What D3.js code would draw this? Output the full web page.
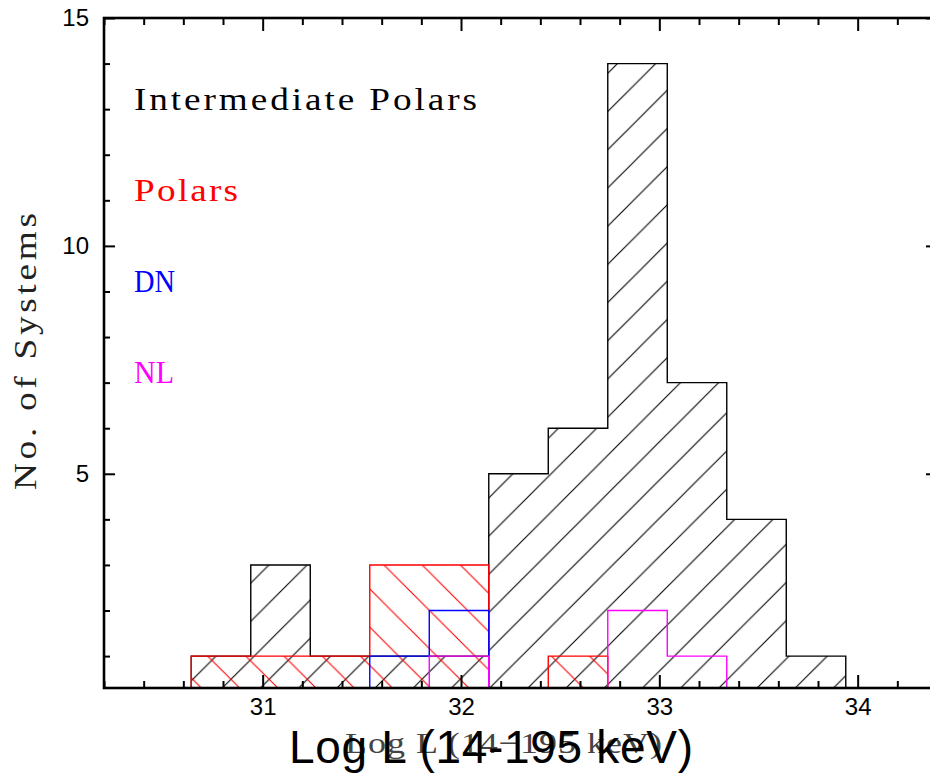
<!DOCTYPE html>
<html>
<head>
<meta charset="utf-8">
<script src="https://cdn.jsdelivr.net/npm/d3@7"></script>
<style>
  body { margin: 0; background: #fff; }
  svg { display: block; }
</style>
</head>
<body>
<div class="histo_chart"></div>
<script>
// 0.3 dex bins in log L(14-195 keV)
var binEdges = [30.64, 30.94, 31.24, 31.54, 31.84, 32.14, 32.44, 32.74, 33.04, 33.34, 33.64, 33.94];
var ipCounts = [1, 3, 1, 1, 1, 5, 6, 14, 7, 4, 1];
var polarCounts = [1, 1, 1, 3, 3, 0, 1, 0, 0, 0, 0];
var dnCounts = [0, 0, 0, 1, 2, 0, 0, 0, 0, 0, 0];
var nlCounts = [0, 0, 0, 0, 1, 0, 0, 2, 1, 0, 0];

var xMajor = [31, 32, 33, 34];
var yMajor = [5, 10, 15];
var legendNames = ["Intermediate Polars", "Polars", "DN", "NL"];

function histo_chart() {
  var selector = ".histo_chart";
  var margin = { top: 18, right: 0, bottom: 87, left: 104 },
    width = 833,
    height = 670;

  var svg = d3
    .select(selector)
    .append("svg")
    .attr("width", 930)
    .attr("height", 775);

  var x = d3.scaleLinear().domain([30.2, 34.4]).range([0, width]),
    y = d3.scaleLinear().domain([0.3, 15]).range([height, 0]);

  var chart = svg
    .append("g")
    .attr("transform", "translate(" + margin.left + "," + margin.top + ")");

  // hatch patterns, phase set in page coords
  var P = 38.2;
  var defs = svg.append("defs");
  function mod(a) {
    return ((a % P) + P) % P;
  }
  defs
    .append("pattern")
    .attr("id", "hatchFwd")
    .attr("patternUnits", "userSpaceOnUse")
    .attr("width", P)
    .attr("height", P)
    .attr("patternTransform", "translate(" + mod(31.7 - margin.left - margin.top) + ",0)")
    .append("path")
    .attr("d", "M-1,1L1,-1M0," + P + "L" + P + ",0M" + (P - 1) + "," + (P + 1) + "L" + (P + 1) + "," + (P - 1))
    .style("stroke", "black")
    .style("stroke-width", 1.1);
  defs
    .append("pattern")
    .attr("id", "hatchBack")
    .attr("patternUnits", "userSpaceOnUse")
    .attr("width", P)
    .attr("height", P)
    .attr("patternTransform", "translate(" + mod(10 - margin.left + margin.top) + ",0)")
    .append("path")
    .attr("d", "M0,0L" + P + "," + P + "M" + (P - 1) + ",-1L" + (P + 1) + ",1M-1," + (P - 1) + "L1," + (P + 1))
    .style("stroke", "red")
    .style("stroke-width", 1.1);

  defs
    .append("clipPath")
    .attr("id", "plotClip")
    .append("rect")
    .attr("width", width)
    .attr("height", height);

  function stepPoints(counts) {
    var pts = [[binEdges[0], 0]];
    counts.forEach(function (c, i) {
      pts.push([binEdges[i], c]);
      pts.push([binEdges[i + 1], c]);
    });
    pts.push([binEdges[binEdges.length - 1], 0]);
    return pts;
  }

  var line = d3
    .line()
    .x(function (d) {
      return x(d[0]);
    })
    .y(function (d) {
      return y(d[1]);
    });

  var plot = chart.append("g").attr("clip-path", "url(#plotClip)");

  var series = [
    { counts: ipCounts, color: "black", hatch: "url(#hatchFwd)" },
    { counts: polarCounts, color: "red", hatch: "url(#hatchBack)" },
    { counts: dnCounts, color: "blue", hatch: null },
    { counts: nlCounts, color: "magenta", hatch: null }
  ];

  // hatched areas first
  series.forEach(function (s) {
    if (!s.hatch) return;
    plot
      .append("path")
      .attr("d", line(stepPoints(s.counts)) + "Z")
      .style("fill", s.hatch)
      .style("stroke", "none");
  });
  // outlines on top
  series.forEach(function (s) {
    plot
      .append("path")
      .attr("d", line(stepPoints(s.counts)))
      .style("fill", "none")
      .style("stroke", s.color)
      .style("stroke-width", 1.4);
  });

  // minor ticks
  var xMinor = d3.range(30.2, 34.41, 0.2).filter(function (v) {
    return Math.abs(v - Math.round(v)) > 0.01;
  });
  var yMinor = d3.range(1, 15).filter(function (v) {
    return v % 5 != 0;
  });

  function styleAxis(g) {
    g.select(".domain").remove();
    g.selectAll(".tick line").style("stroke-width", 2);
    g.selectAll(".tick text")
      .style("font-family", "'Liberation Sans', Arial, sans-serif")
      .style("font-size", "24px")
      .style("fill", "black");
  }

  chart
    .append("g")
    .attr("transform", "translate(0," + height + ")")
    .call(d3.axisBottom(x).tickValues(xMajor).tickSize(-13).tickPadding(10).tickFormat(d3.format("d")))
    .call(styleAxis);
  chart
    .append("g")
    .attr("transform", "translate(0," + height + ")")
    .call(d3.axisBottom(x).tickValues(xMinor).tickSize(-7).tickFormat(""))
    .call(styleAxis);
  chart
    .append("g")
    .call(d3.axisTop(x).tickValues(xMajor).tickSize(-13).tickFormat(""))
    .call(styleAxis);
  chart
    .append("g")
    .call(d3.axisTop(x).tickValues(xMinor).tickSize(-7).tickFormat(""))
    .call(styleAxis);
  chart
    .append("g")
    .call(d3.axisLeft(y).tickValues(yMajor).tickSize(-11).tickPadding(15).tickFormat(d3.format("d")))
    .call(styleAxis);
  chart
    .append("g")
    .call(d3.axisLeft(y).tickValues(yMinor).tickSize(-6).tickFormat(""))
    .call(styleAxis);
  chart
    .append("g")
    .attr("transform", "translate(" + width + ",0)")
    .call(d3.axisRight(y).tickValues(yMajor).tickSize(-11).tickFormat(""))
    .call(styleAxis);

  // frame
  chart
    .append("rect")
    .attr("width", width)
    .attr("height", height)
    .style("fill", "none")
    .style("stroke", "black")
    .style("stroke-width", 2.6);

  // serif labels: glyphs widened a bit (up to 1.2x) to look like the plot's stroke font,
  // then letter spacing takes up the rest of the target width
  var serif = "'Liberation Serif', 'Times New Roman', serif";
  function fitText(sel, x0, y0, rot, target) {
    var natural = sel.node().getComputedTextLength();
    var k = Math.min(1.2, target / natural);
    sel.attr(
      "transform",
      "translate(" + x0 + "," + y0 + ")" + (rot ? " rotate(" + rot + ")" : "") + " scale(" + k + ",1)"
    );
    if (target / k > natural + 0.5) sel.attr("textLength", target / k);
  }

  var legendColors = ["black", "red", "blue", "magenta"];
  var legendLen = [343, 104, 41, 40];
  svg
    .selectAll(".legend")
    .data(legendNames)
    .enter()
    .append("text")
    .attr("class", "legend")
    .style("font-family", serif)
    .style("font-size", "31px")
    .style("fill", function (d, i) {
      return legendColors[i];
    })
    .text(function (d) {
      return d;
    })
    .each(function (d, i) {
      fitText(d3.select(this), 134, 110 + i * 91, 0, legendLen[i]);
    });

  // y title
  var yTitle = svg
    .append("text")
    .style("font-family", serif)
    .style("font-size", "31px")
    .style("fill", "#222")
    .text("No. of Systems");
  fitText(yTitle, 36, 490, -90, 277);

  // x titles (two overlapping, as in the original)
  var xTitle = svg
    .append("text")
    .style("font-family", serif)
    .style("font-size", "30px")
    .style("fill", "#444")
    .text("Log L (14\u2212195 keV)");
  fitText(xTitle, 345, 753, 0, 317);
  svg
    .append("text")
    .attr("x", 289)
    .attr("y", 763)
    .attr("textLength", 404)
    .style("font-family", "'Liberation Sans', Arial, sans-serif")
    .style("font-size", "46px")
    .style("fill", "black")
    .text("Log L (14-195 keV)");
}

histo_chart();
</script>
</body>
</html>
